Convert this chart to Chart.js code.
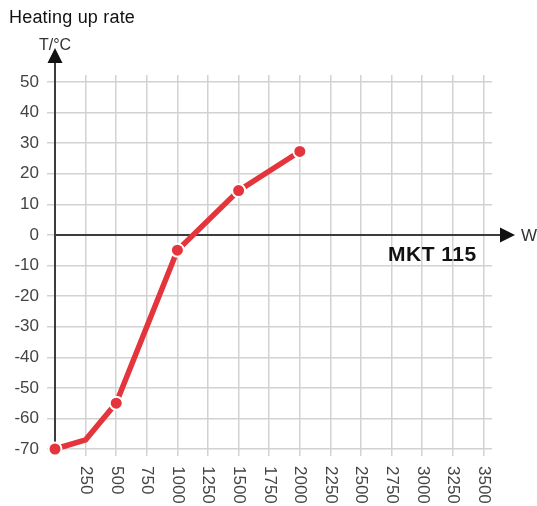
<!DOCTYPE html>
<html>
<head>
<meta charset="utf-8">
<script src="https://cdn.jsdelivr.net/npm/chart.js@4/dist/chart.umd.min.js"></script>
<style>
  html, body { margin: 0; padding: 0; background: #fff; }
  #wrap { width: 537px; height: 506px; position: relative; }
</style>
</head>
<body>
<div id="wrap"><canvas id="c" width="537" height="506"></canvas></div>
<script>
// ---- data ----
const title = "Heating up rate";
const yAxisTitle = "T/°C";
const xAxisTitle = "W";
const seriesName = "MKT 115";
const powerW = [0, 250, 500, 1000, 1500, 2000];
const tempC = [-70, -67, -55, -5, 14.5, 27.3];
const xTickValues = [250, 500, 750, 1000, 1250, 1500, 1750, 2000, 2250, 2500, 2750, 3000, 3250, 3500];
const yTickValues = [-70, -60, -50, -40, -30, -20, -10, 0, 10, 20, 30, 40, 50];

const FONT = "'Liberation Sans', Arial, Helvetica, sans-serif";
const RED = '#e4343c';
const AXIS = '#3c3c3c';

const decor = {
  id: 'decor',
  beforeDatasetsDraw(chart) {
    const ctx = chart.ctx;
    const xs = chart.scales.x, ys = chart.scales.y;
    const x0 = xs.getPixelForValue(0);
    const y0 = ys.getPixelForValue(0);
    ctx.save();
    ctx.strokeStyle = AXIS;
    ctx.lineWidth = 2;
    ctx.beginPath();
    ctx.moveTo(x0, y0);
    ctx.lineTo(502, y0);
    ctx.stroke();
    const yBottom = ys.getPixelForValue(-70);
    ctx.beginPath();
    ctx.moveTo(x0, yBottom);
    ctx.lineTo(x0, 62);
    ctx.stroke();
    ctx.restore();
  },
  afterDraw(chart) {
    const ctx = chart.ctx;
    const xs = chart.scales.x, ys = chart.scales.y;
    const x0 = xs.getPixelForValue(0);
    const y0 = ys.getPixelForValue(0);
    ctx.save();
    ctx.fillStyle = '#111';
    ctx.beginPath();
    ctx.moveTo(500, y0 - 7.5);
    ctx.lineTo(515, y0);
    ctx.lineTo(500, y0 + 7.5);
    ctx.closePath();
    ctx.fill();
    ctx.beginPath();
    ctx.moveTo(x0 - 7.5, 63);
    ctx.lineTo(x0, 48);
    ctx.lineTo(x0 + 7.5, 63);
    ctx.closePath();
    ctx.fill();
    // titles
    ctx.fillStyle = '#111';
    ctx.font = '18px ' + FONT;
    ctx.textAlign = 'left';
    ctx.textBaseline = 'alphabetic';
    ctx.letterSpacing = '0.2px';
    ctx.fillText(title, 9, 23);
    ctx.letterSpacing = '0px';
    ctx.fillStyle = '#333';
    ctx.font = '16px ' + FONT;
    ctx.textAlign = 'center';
    ctx.fillText(yAxisTitle, x0, 50);
    ctx.textAlign = 'left';
    ctx.font = '17px ' + FONT;
    ctx.fillText(xAxisTitle, 521, y0 + 6);
    // series label
    ctx.fillStyle = '#111';
    ctx.font = 'bold 21px ' + FONT;
    ctx.textAlign = 'left';
    ctx.letterSpacing = '0.5px';
    ctx.fillText(seriesName, 388, 261);
    ctx.letterSpacing = '0px';
    // rotated x tick labels (reading top to bottom)
    ctx.fillStyle = '#444';
    ctx.font = '17px ' + FONT;
    ctx.textAlign = 'left';
    ctx.textBaseline = 'middle';
    xTickValues.forEach(v => {
      const px = xs.getPixelForValue(v);
      ctx.save();
      ctx.translate(px, 466);
      ctx.rotate(Math.PI / 2);
      ctx.fillText(String(v), 0, 0);
      ctx.restore();
    });
    ctx.restore();
  }
};

new Chart(document.getElementById('c'), {
  type: 'line',
  data: {
    datasets: [{
      label: seriesName,
      data: powerW.map((x, i) => ({ x, y: tempC[i] })),
      borderColor: RED,
      backgroundColor: RED,
      borderWidth: 5.5,
      pointRadius: ctx => ctx.dataIndex === 1 ? 0 : 6.5,
      pointBorderColor: '#fff',
      pointBorderWidth: 2,
      pointBackgroundColor: RED,
      tension: 0,
      clip: false
    }]
  },
  options: {
    responsive: false,
    animation: false,
    events: [],
    layout: { padding: { left: 0, right: 45, top: 75, bottom: 0 } },
    plugins: { legend: { display: false }, tooltip: { enabled: false } },
    scales: {
      x: {
        type: 'linear',
        min: 0,
        max: 3570,
        afterBuildTicks: s => { s.ticks = [0].concat(xTickValues).map(v => ({ value: v })); },
        afterFit: s => { s.height = 57; },
        ticks: { display: false },
        grid: { color: '#d2d2d2', lineWidth: 1.5, drawTicks: true, tickLength: 7 },
        border: { display: false }
      },
      y: {
        type: 'linear',
        min: -70,
        max: 52.3,
        afterBuildTicks: s => { s.ticks = yTickValues.map(v => ({ value: v })); },
        afterFit: s => { s.width = 55; },
        ticks: { color: '#444', font: { family: FONT, size: 17 }, padding: 8 },
        grid: { color: '#d2d2d2', lineWidth: 1.5, drawTicks: true, tickLength: 8 },
        border: { display: false }
      }
    }
  },
  plugins: [decor]
});
</script>
</body>
</html>
